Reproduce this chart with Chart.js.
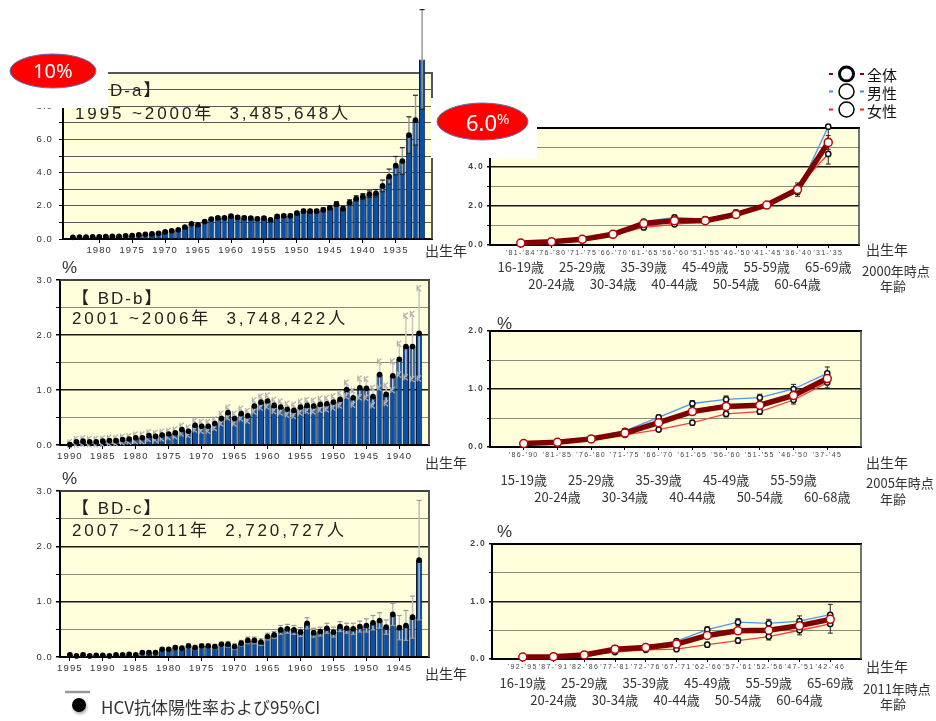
<!DOCTYPE html>
<html><head><meta charset="utf-8">
<script src="https://cdn.jsdelivr.net/npm/chart.js@4/dist/chart.umd.min.js"></script>
<style>
html,body{margin:0;padding:0;background:#fff;width:936px;height:721px;overflow:hidden;}
#wrap{position:relative;width:936px;height:721px;}
canvas{position:absolute;left:0;top:0;}
.t{position:absolute;white-space:nowrap;color:#222;font-family:"Liberation Sans","Noto Sans CJK JP",sans-serif;line-height:1;transform:translateY(-50%);}
.j{font-family:"Noto Sans CJK JP",sans-serif;color:#333;}
svg{position:absolute;left:0;top:0;}
</style></head><body><div id="wrap">
<canvas id="cA" width="936" height="721"></canvas>
<canvas id="cB" width="936" height="721"></canvas>
<canvas id="cC" width="936" height="721"></canvas>
<canvas id="cD" width="936" height="721"></canvas>
<canvas id="cE" width="936" height="721"></canvas>
<canvas id="cF" width="936" height="721"></canvas>

<div class="t" style="left:71px;top:90px;font-size:17px;letter-spacing:2px">【 BD-a】</div>
<div class="t" style="left:75px;top:113px;font-size:17px;letter-spacing:2.9px">1995 ~2000年&nbsp;&nbsp;3,485,648人</div>
<div class="t" style="left:72px;top:298px;font-size:17px;letter-spacing:2px">【 BD-b】</div>
<div class="t" style="left:72px;top:318px;font-size:17px;letter-spacing:2.9px">2001 ~2006年&nbsp;&nbsp;3,748,422人</div>
<div class="t" style="left:72px;top:508px;font-size:17px;letter-spacing:2px">【 BD-c】</div>
<div class="t" style="left:72px;top:530px;font-size:17px;letter-spacing:2.9px">2007 ~2011年&nbsp;&nbsp;2,720,727人</div>

<svg width="936" height="721">
 <defs><filter id="sh" x="-50%" y="-50%" width="200%" height="200%"><feDropShadow dx="1" dy="2" stdDeviation="1.5" flood-color="#000" flood-opacity="0.35"/></filter></defs>
 <rect x="8" y="50" width="100" height="58" fill="#fff"/>
 <rect x="431" y="98" width="106" height="60" fill="#fff"/>
 <ellipse cx="53" cy="71" rx="43" ry="17" fill="#ff0000" stroke="#5577bb" stroke-width="1"/>
 <ellipse cx="482.5" cy="121.5" rx="45.5" ry="18.5" fill="#ff0000" stroke="#5577bb" stroke-width="1"/>
 <g>
  <line x1="829" y1="74" x2="864" y2="74" stroke="#8b0000" stroke-width="2"/>
  <rect x="833" y="65" width="27" height="18" fill="#fff"/>
  <circle cx="846.5" cy="74" r="7" fill="#fff" stroke="#000" stroke-width="3"/>
  <line x1="829" y1="91.5" x2="864" y2="91.5" stroke="#4a90e2" stroke-width="2"/>
  <rect x="833" y="82.5" width="27" height="18" fill="#fff"/>
  <circle cx="846.5" cy="91.5" r="7.5" fill="#fff" stroke="#000" stroke-width="1.5"/>
  <line x1="829" y1="109.5" x2="864" y2="109.5" stroke="#ff2020" stroke-width="2"/>
  <rect x="833" y="100.5" width="27" height="18" fill="#fff"/>
  <circle cx="846.5" cy="109.5" r="7.5" fill="#fff" stroke="#000" stroke-width="1.5"/>
 </g>
 <line x1="65" y1="692" x2="90" y2="692" stroke="#999" stroke-width="2.5"/>
 <circle cx="79" cy="705" r="7" fill="#000" filter="url(#sh)"/>
</svg>

<div class="t" style="left:33px;top:71px;font-size:20px;color:#fff;font-family:'Noto Sans',sans-serif;">10%</div>
<div class="t" style="left:466px;top:122px;font-size:22px;color:#fff;font-family:'Noto Sans',sans-serif;">6.0<span style="font-size:15px;vertical-align:7px">%</span></div>

<div class="t j" style="left:867px;top:74px;font-size:15px;color:#111">全体</div>
<div class="t j" style="left:867px;top:92px;font-size:15px;color:#111">男性</div>
<div class="t j" style="left:867px;top:110px;font-size:15px;color:#111">女性</div>
<div class="t j" style="left:101px;top:706px;font-size:17px;">HCV抗体陽性率および95%CI</div>

<div class="t" style="left:62px;top:267px;font-size:17px;color:#333">%</div>
<div class="t" style="left:62px;top:478px;font-size:17px;color:#333">%</div>
<div class="t" style="left:497px;top:323px;font-size:17px;color:#333">%</div>
<div class="t" style="left:497px;top:531px;font-size:17px;color:#333">%</div>

<div class="t j" style="left:425px;top:250px;font-size:14px;">出生年</div>
<div class="t j" style="left:425px;top:462px;font-size:14px;">出生年</div>
<div class="t j" style="left:425px;top:673px;font-size:14px;">出生年</div>
<div class="t j" style="left:866px;top:249px;font-size:14px;">出生年</div>
<div class="t j" style="left:862px;top:270px;font-size:13px;">2000年時点</div>
<div class="t j" style="left:880px;top:285px;font-size:13px;">年齢</div>
<div class="t j" style="left:866px;top:462px;font-size:14px;">出生年</div>
<div class="t j" style="left:866px;top:482px;font-size:13px;">2005年時点</div>
<div class="t j" style="left:880px;top:498px;font-size:13px;">年齢</div>
<div class="t j" style="left:866px;top:666px;font-size:14px;">出生年</div>
<div class="t j" style="left:863px;top:688px;font-size:13px;">2011年時点</div>
<div class="t j" style="left:880px;top:703px;font-size:13px;">年齢</div>
</div>
<script>
// ===================== DATA =====================
// BD-a : 1995-2000 (birth year categories)
const yearsA = [1984,1983,1982,1981,1980,1979,1978,1977,1976,1975,1974,1973,1972,1971,1970,1969,1968,1967,1966,1965,1964,1963,1962,1961,1960,1959,1958,1957,1956,1955,1954,1953,1952,1951,1950,1949,1948,1947,1946,1945,1944,1943,1942,1941,1940,1939,1938,1937,1936,1935,1934,1933,1932,1931];
const rateA = [0.10,0.12,0.12,0.13,0.14,0.15,0.16,0.17,0.19,0.21,0.25,0.29,0.31,0.35,0.43,0.50,0.56,0.72,0.92,0.86,1.05,1.20,1.28,1.27,1.38,1.30,1.28,1.26,1.22,1.26,1.16,1.36,1.40,1.40,1.56,1.68,1.68,1.68,1.76,1.88,2.10,1.84,2.20,2.44,2.56,2.70,2.76,3.20,3.76,4.42,4.70,6.26,7.16,10.82];
const ciA = [0.03,0.03,0.03,0.03,0.03,0.03,0.03,0.03,0.03,0.04,0.04,0.04,0.04,0.05,0.05,0.05,0.05,0.06,0.06,0.06,0.07,0.07,0.07,0.07,0.08,0.08,0.08,0.08,0.08,0.08,0.08,0.08,0.08,0.09,0.10,0.10,0.10,0.10,0.11,0.12,0.14,0.14,0.16,0.16,0.17,0.20,0.22,0.35,0.45,0.55,0.80,1.10,1.50,3.00];
const ticksA = [1980,1975,1970,1965,1960,1955,1950,1945,1940,1935];

// BD-b : 2001-2006
const yearsB = [1990,1989,1988,1987,1986,1985,1984,1983,1982,1981,1980,1979,1978,1977,1976,1975,1974,1973,1972,1971,1970,1969,1968,1967,1966,1965,1964,1963,1962,1961,1960,1959,1958,1957,1956,1955,1954,1953,1952,1951,1950,1949,1948,1947,1946,1945,1944,1943,1942,1941,1940,1939,1938,1937];
const rateB = [0.01,0.06,0.07,0.06,0.06,0.07,0.08,0.08,0.10,0.11,0.13,0.13,0.17,0.16,0.18,0.20,0.22,0.28,0.25,0.36,0.34,0.34,0.39,0.48,0.59,0.48,0.57,0.53,0.71,0.78,0.80,0.72,0.69,0.65,0.63,0.69,0.72,0.71,0.74,0.75,0.78,0.83,1.01,0.86,1.04,1.03,0.88,1.28,0.92,1.26,1.56,1.79,1.79,2.03];
const ciB = [0.04,0.05,0.05,0.05,0.05,0.05,0.05,0.05,0.05,0.05,0.06,0.06,0.06,0.06,0.06,0.06,0.06,0.07,0.07,0.08,0.08,0.08,0.08,0.09,0.09,0.09,0.09,0.09,0.10,0.10,0.10,0.10,0.10,0.10,0.10,0.10,0.10,0.10,0.10,0.10,0.10,0.11,0.12,0.13,0.17,0.17,0.16,0.24,0.16,0.26,0.28,0.56,0.59,0.82];
const ticksB = [1990,1985,1980,1975,1970,1965,1960,1955,1950,1945,1940];

// BD-c : 2007-2011
const yearsC = [1995,1994,1993,1992,1991,1990,1989,1988,1987,1986,1985,1984,1983,1982,1981,1980,1979,1978,1977,1976,1975,1974,1973,1972,1971,1970,1969,1968,1967,1966,1965,1964,1963,1962,1961,1960,1959,1958,1957,1956,1955,1954,1953,1952,1951,1950,1949,1948,1947,1946,1945,1944,1943,1942];
const rateC = [0.04,0.02,0.04,0.02,0.03,0.03,0.02,0.04,0.04,0.05,0.04,0.08,0.08,0.08,0.14,0.14,0.17,0.16,0.20,0.17,0.20,0.20,0.19,0.23,0.23,0.19,0.25,0.30,0.30,0.27,0.37,0.40,0.49,0.51,0.49,0.45,0.61,0.44,0.46,0.52,0.45,0.55,0.52,0.51,0.55,0.57,0.62,0.66,0.54,0.77,0.53,0.57,0.72,1.75];
const ciC = [0.03,0.02,0.03,0.02,0.02,0.02,0.02,0.02,0.02,0.02,0.02,0.03,0.03,0.03,0.03,0.03,0.03,0.03,0.04,0.04,0.04,0.04,0.04,0.04,0.05,0.05,0.05,0.06,0.06,0.06,0.06,0.06,0.08,0.08,0.08,0.08,0.10,0.08,0.08,0.09,0.09,0.09,0.09,0.10,0.10,0.12,0.13,0.14,0.13,0.20,0.22,0.27,0.38,1.08];
const ticksC = [1995,1990,1985,1980,1975,1970,1965,1960,1955,1950,1945];

// Cohort line charts
const seriesNames = ['全体','男性','女性'];
const birthD = ["'81-'84","'76-'80","'71-'75","'66-'70","'61-'65","'56-'60","'51-'55","'46-'50","'41-'45","'36-'40","'31-'35"];
const agesD = ['16-19歳','20-24歳','25-29歳','30-34歳','35-39歳','40-44歳','45-49歳','50-54歳','55-59歳','60-64歳','65-69歳'];
const totalD = [0.10,0.17,0.29,0.55,1.10,1.25,1.25,1.57,2.05,2.85,5.26];
const maleD = [0.08,0.15,0.30,0.60,1.20,1.42,1.33,1.68,2.02,2.72,6.07];
const femaleD = [0.11,0.19,0.27,0.52,0.90,1.06,1.20,1.50,2.08,2.96,4.67];
const ciTotalD = [0.01,0.02,0.03,0.04,0.05,0.06,0.07,0.08,0.10,0.15,0.35];
const ciMaleD = [0.02,0.03,0.04,0.06,0.08,0.10,0.10,0.10,0.14,0.22,0.60];
const ciFemaleD = [0.02,0.03,0.04,0.05,0.07,0.08,0.09,0.10,0.14,0.22,0.52];

const birthE = ["'86-'90","'81-'85","'76-'80","'71-'75","'66-'70","'61-'65","'56-'60","'51-'55","'46-'50","'37-'45"];
const agesE = ['15-19歳','20-24歳','25-29歳','30-34歳','35-39歳','40-44歳','45-49歳','50-54歳','55-59歳','60-68歳'];
const totalE = [0.06,0.08,0.14,0.24,0.42,0.61,0.70,0.72,0.89,1.18];
const maleE = [0.06,0.09,0.15,0.28,0.51,0.75,0.82,0.85,1.00,1.27];
const femaleE = [0.05,0.07,0.13,0.21,0.30,0.42,0.57,0.61,0.81,1.11];
const ciTotalE = [0.01,0.01,0.02,0.02,0.03,0.04,0.04,0.04,0.05,0.06];
const ciMaleE = [0.02,0.02,0.02,0.03,0.04,0.05,0.06,0.06,0.08,0.11];
const ciFemaleE = [0.01,0.02,0.02,0.03,0.03,0.04,0.05,0.05,0.07,0.09];

const birthF = ["'92-'95","'87-'91","'82-'86","'77-'81","'72-'76","'67-'71","'62-'66","'57-'61","'52-'56","'47-'51","'42-'46"];
const agesF = ['16-19歳','20-24歳','25-29歳','30-34歳','35-39歳','40-44歳','45-49歳','50-54歳','55-59歳','60-64歳','65-69歳'];
const totalF = [0.035,0.04,0.07,0.17,0.20,0.26,0.41,0.49,0.50,0.58,0.69];
const maleF = [0.03,0.04,0.08,0.19,0.22,0.31,0.51,0.64,0.62,0.66,0.77];
const femaleF = [0.03,0.04,0.06,0.12,0.16,0.17,0.25,0.32,0.39,0.50,0.61];
const ciTotalF = [0.01,0.01,0.01,0.02,0.02,0.02,0.03,0.04,0.05,0.06,0.10];
const ciMaleF = [0.01,0.01,0.02,0.02,0.03,0.03,0.05,0.06,0.07,0.09,0.18];
const ciFemaleF = [0.01,0.01,0.02,0.02,0.02,0.03,0.04,0.05,0.06,0.08,0.16];

// ===================== RENDERING =====================
Chart.defaults.font.family = '"Liberation Sans", "Noto Sans CJK JP", sans-serif';
Chart.defaults.color = '#333';
const W = 936, H = 721, YW = 30, XH = 20;
const BG = '#FFFFDC';

function padFor(a){ return {left:a.left-YW, top:a.top, right:W-a.right, bottom:H-a.bottom-XH}; }

function framePlugin(o){
  return {
    id:'frame',
    beforeDraw(chart){
      const a=chart.chartArea, c=chart.ctx;
      c.save(); c.fillStyle=BG; c.fillRect(a.left,a.top,a.right-a.left,a.bottom-a.top); c.restore();
      c.letterSpacing = o.ls;
    },
    beforeDatasetsDraw(chart){
      const a=chart.chartArea, c=chart.ctx;
      c.save();
      c.strokeStyle=o.top; c.lineWidth=2; c.beginPath(); c.moveTo(a.left,a.top); c.lineTo(a.right+1,a.top); c.stroke();
      c.strokeStyle=o.right; c.lineWidth=o.rw; c.beginPath(); c.moveTo(a.right,a.top); c.lineTo(a.right,a.bottom); c.stroke();
      c.restore();
    }
  };
}

function drawCap(c,x,y,s){
  c.strokeStyle=s.cap; c.lineWidth=1.2; c.beginPath();
  if(s.type==='k'){
    c.moveTo(x-2,y-3); c.lineTo(x-2,y+3);
    c.moveTo(x+2,y-3); c.lineTo(x-2,y); c.lineTo(x+2,y+3);
  } else {
    c.moveTo(x-s.w,y); c.lineTo(x+s.w,y);
  }
  c.stroke();
}

function barErrPlugin(vals, ci, s){
  return {
    id:'barErr',
    afterDatasetDraw(chart,args){
      if(args.index!==1) return;
      const c=chart.ctx, ys=chart.scales.y;
      c.save(); c.letterSpacing='0px';
      args.meta.data.forEach((el,i)=>{
        const lo=Math.max(0,vals[i]-ci[i]), hi=vals[i]+ci[i];
        const x=el.x, yl=ys.getPixelForValue(lo), yh=ys.getPixelForValue(hi);
        c.strokeStyle=s.line; c.lineWidth=s.lw; c.beginPath(); c.moveTo(x,yl); c.lineTo(x,yh); c.stroke();
        drawCap(c,x,yh,s); drawCap(c,x,yl,s);
      });
      c.restore();
    }
  };
}

function makeBar(id, years, vals, ci, ticks, area, xMin, xMax, yMax, yStep, yLabel, gridFn, frame, errStyle, yPad){
  const pts = years.map((y,i)=>({x:y, y:vals[i]}));
  new Chart(document.getElementById(id), {
    type:'bar',
    data:{datasets:[
      {type:'line', data:pts, showLine:false, pointRadius:2.8, pointHoverRadius:2.8, pointBackgroundColor:'#000', pointBorderWidth:0, clip:false},
      {type:'bar', data:pts, backgroundColor:'#0A4FA6', borderColor:'#0c1a3a', borderWidth:1, barPercentage:0.94, categoryPercentage:1, clip:false}
    ]},
    options:{
      responsive:false, animation:false, devicePixelRatio:1, events:[],
      layout:{padding:padFor(area)},
      plugins:{legend:{display:false}, tooltip:{enabled:false}},
      scales:{
        x:{type:'linear', reverse:true, min:xMin, max:xMax, offset:false,
           grid:{offset:false, drawOnChartArea:false, drawTicks:true, tickLength:4, tickColor:'#000'},
           border:{color:'#000', width:2},
           ticks:{autoSkip:false, maxRotation:0, minRotation:0, padding:2, font:{size:9.5}, color:'#333', callback:v=>String(v)},
           afterBuildTicks:s=>{ s.ticks = ticks.map(v=>({value:v})); },
           afterFit:s=>{ s.height=XH; }},
        y:{min:0, max:yMax,
           ticks:{stepSize:yStep, autoSkip:false, padding:yPad, font:{size:9.5}, color:'#333', callback:yLabel},
           grid:{color:gridFn.c, lineWidth:gridFn.w, tickLength:4, tickColor:'#000'},
           border:{color:'#000', width:2},
           afterFit:s=>{ s.width=YW; }}
      }
    },
    plugins:[framePlugin(frame), barErrPlugin(vals, ci, errStyle)]
  });
}

const gridA = {c:ctx=>ctx.tick.value===0?'rgba(0,0,0,0)':'#5a5a5a', w:1};
const gridHalf = {c:ctx=>ctx.tick.value===0?'rgba(0,0,0,0)':(Number.isInteger(ctx.tick.value)?'#1a1a1a':'#8a8a78'), w:ctx=>Number.isInteger(ctx.tick.value)?1.5:1};
const gridTwo = {c:ctx=>ctx.tick.value===0?'rgba(0,0,0,0)':(ctx.tick.value%2===0?'#1a1a1a':'#8a8a78'), w:ctx=>ctx.tick.value%2===0?1.5:1};
const lblEven = v => v%2===0 ? v.toFixed(1) : '';
const lblInt = v => Number.isInteger(v) ? v.toFixed(1) : '';

makeBar('cA', yearsA, rateA, ciA, ticksA, {left:63,top:73,right:432,bottom:239}, 1929.5, 1985.5, 10, 1, lblEven, gridA,
  {ls:'1.1px', top:'#555', right:'#555', rw:2}, {line:'#9a9a9a', lw:1.5, cap:'#222', type:'bar', w:2.5}, 6);
makeBar('cB', yearsB, rateB, ciB, ticksB, {left:60,top:280,right:429,bottom:445}, 1935.5, 1991.5, 3, 0.5, lblInt, gridHalf,
  {ls:'1.1px', top:'#444', right:'#555', rw:2}, {line:'#c8c8c8', lw:1.5, cap:'#b0b0b0', type:'k'}, 3);
makeBar('cC', yearsC, rateC, ciC, ticksC, {left:60,top:491,right:429,bottom:657}, 1940.5, 1996.5, 3, 0.5, lblInt, gridHalf,
  {ls:'1.1px', top:'#444', right:'#555', rw:2}, {line:'#bdbdbd', lw:1.5, cap:'#999', type:'bar', w:2.5}, 3);

function lineErrPlugin(cis){
  return {
    id:'lineErr',
    beforeDatasetsDraw(chart){
      const c=chart.ctx, a=chart.chartArea, xs=chart.scales.x, ys=chart.scales.y;
      c.save(); c.beginPath(); c.rect(a.left, a.top-1, a.right-a.left, a.bottom-a.top+1); c.clip();
      c.strokeStyle='#222'; c.lineWidth=1;
      chart.data.datasets.forEach((ds,di)=>{
        ds.data.forEach((p,i)=>{
          const x=xs.getPixelForValue(p.x), yl=ys.getPixelForValue(Math.max(0,p.y-cis[di][i])), yh=ys.getPixelForValue(p.y+cis[di][i]);
          c.beginPath(); c.moveTo(x,yl); c.lineTo(x,yh);
          c.moveTo(x-2.5,yl); c.lineTo(x+2.5,yl); c.moveTo(x-2.5,yh); c.lineTo(x+2.5,yh); c.stroke();
        });
      });
      c.restore();
    }
  };
}
function agePlugin(ages, rows){
  return {
    id:'ages',
    afterDraw(chart){
      const c=chart.ctx, xs=chart.scales.x;
      c.save(); c.letterSpacing='0px'; c.font='13px "Noto Sans CJK JP", sans-serif'; c.fillStyle='#333';
      c.textAlign='center'; c.textBaseline='middle';
      ages.forEach((t,i)=>{ c.fillText(t, xs.getPixelForValue(i+1), rows[i%2]); });
      c.restore();
    }
  };
}

function makeLine(id, birth, ages, total, male, female, cis, area, yMax, yStep, yLabel, gridFn, rows){
  const n = birth.length;
  const mk = arr => arr.map((v,i)=>({x:i+1, y:v}));
  new Chart(document.getElementById(id), {
    type:'line',
    data:{datasets:[
      {label:seriesNames[0], data:mk(total), borderColor:'#800000', borderWidth:5.5, pointRadius:4, pointHoverRadius:4, pointBackgroundColor:'#fff', pointBorderColor:'#c00000', pointBorderWidth:1.5, clip:false, tension:0},
      {label:seriesNames[1], data:mk(male), borderColor:'#4a96ee', borderWidth:1.3, pointRadius:2.6, pointHoverRadius:2.6, pointBackgroundColor:'#fff', pointBorderColor:'#111', pointBorderWidth:1.5, clip:false, tension:0},
      {label:seriesNames[2], data:mk(female), borderColor:'#ff3a3a', borderWidth:1.3, pointRadius:2.6, pointHoverRadius:2.6, pointBackgroundColor:'#fff', pointBorderColor:'#111', pointBorderWidth:1.5, clip:false, tension:0}
    ]},
    options:{
      responsive:false, animation:false, devicePixelRatio:1, events:[],
      layout:{padding:padFor(area)},
      plugins:{legend:{display:false}, tooltip:{enabled:false}},
      scales:{
        x:{type:'linear', min:0, max:n+1, offset:false,
           grid:{drawOnChartArea:false, drawTicks:true, tickLength:3, tickColor:'#000'},
           border:{color:'#000', width:2},
           ticks:{autoSkip:false, maxRotation:0, minRotation:0, padding:1, font:{size:7}, color:'#444', callback:v=>birth[v-1]===undefined?'':birth[v-1]},
           afterBuildTicks:s=>{ s.ticks = birth.map((b,i)=>({value:i+1})); },
           afterFit:s=>{ s.height=XH; }},
        y:{min:0, max:yMax,
           ticks:{stepSize:yStep, autoSkip:false, padding:3, font:{size:8.5, weight:'bold'}, color:'#444', callback:yLabel},
           grid:{color:gridFn.c, lineWidth:gridFn.w, tickLength:3, tickColor:'#000'},
           border:{color:'#000', width:2},
           afterFit:s=>{ s.width=YW; }}
      }
    },
    plugins:[framePlugin({ls:'1.3px', top:'#000', right:'#444', rw:1.5}), lineErrPlugin(cis), agePlugin(ages, rows)]
  });
}

makeLine('cD', birthD, agesD, totalD, maleD, femaleD, [ciTotalD,ciMaleD,ciFemaleD], {left:490,top:128,right:859,bottom:245}, 6, 1, lblEven, gridTwo, [267,284]);
makeLine('cE', birthE, agesE, totalE, maleE, femaleE, [ciTotalE,ciMaleE,ciFemaleE], {left:490,top:331,right:861,bottom:447}, 2, 0.5, lblInt, gridHalf, [480,497]);
makeLine('cF', birthF, agesF, totalF, maleF, femaleF, [ciTotalF,ciMaleF,ciFemaleF], {left:492,top:544,right:861,bottom:659}, 2, 0.5, lblInt, gridHalf, [683,700]);
</script>
</body></html>
